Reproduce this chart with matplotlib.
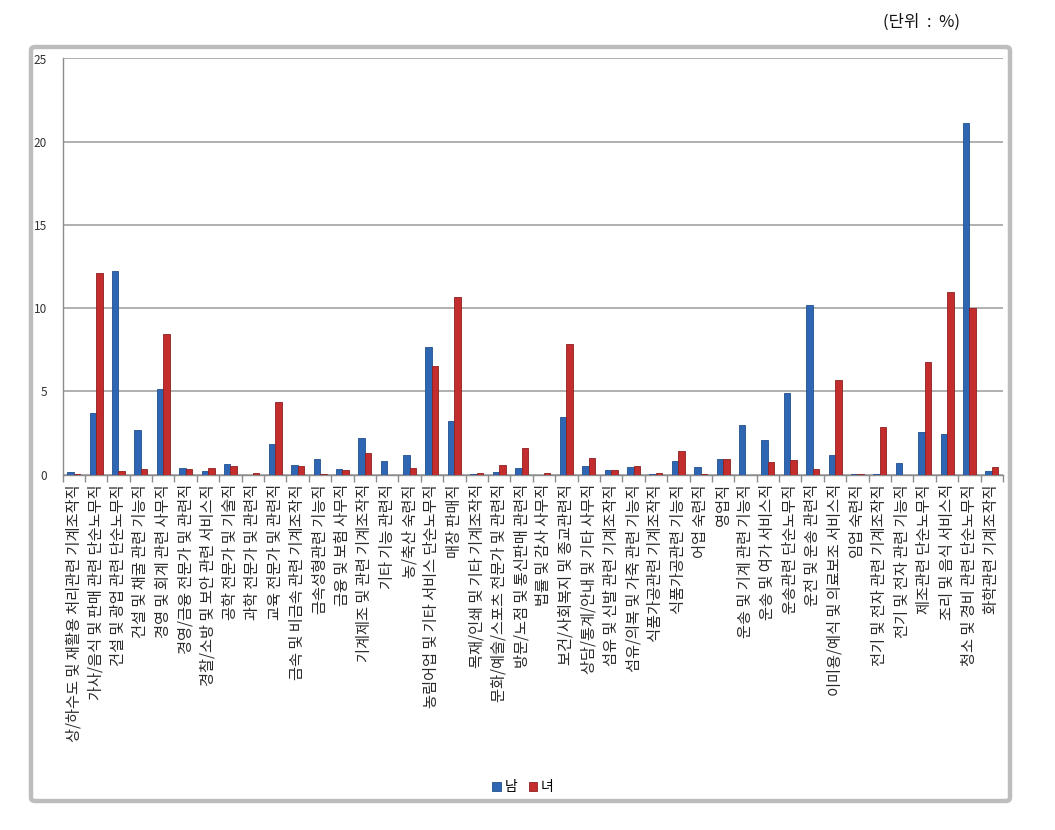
import numpy as np
import matplotlib
matplotlib.use('Agg')
import matplotlib.pyplot as plt
from matplotlib.patches import FancyBboxPatch

plt.rcParams['font.family'] = ['Noto Sans CJK KR', 'DejaVu Sans']

# 직종별 성별 비율 (단위 : %)
jobs = [
    '상/하수도 및 재활용 처리관련 기계조작직',
    '가사/음식 및 판매 관련 단순노무직',
    '건설 및 광업 관련 단순노무직',
    '건설 및 채굴 관련 기능직',
    '경영 및 회계 관련 사무직',
    '경영/금융 전문가 및 관련직',
    '경찰/소방 및 보안 관련 서비스직',
    '공학 전문가 및 기술직',
    '과학 전문가 및 관련직',
    '교육 전문가 및 관련직',
    '금속 및 비금속 관련 기계조작직',
    '금속성형관련 기능직',
    '금융 및 보험 사무직',
    '기계제조 및 관련 기계조작직',
    '기타 기능 관련직',
    '농/축산 숙련직',
    '농림어업 및 기타 서비스 단순노무직',
    '매장 판매직',
    '목재/인쇄 및 기타 기계조작직',
    '문화/예술/스포츠 전문가 및 관련직',
    '방문/노점 및 통신판매 관련직',
    '법률 및 감사 사무직',
    '보건/사회복지 및 종교관련직',
    '상담/통계/안내 및 기타 사무직',
    '섬유 및 신발 관련 기계조작직',
    '섬유/의복 및 가죽 관련 기능직',
    '식품가공관련 기계조작직',
    '식품가공관련 기능직',
    '어업 숙련직',
    '영업직',
    '운송 및 기계 관련 기능직',
    '운송 및 여가 서비스직',
    '운송관련 단순노무직',
    '운전 및 운송 관련직',
    '이미용/예식 및 의료보조 서비스직',
    '임업 숙련직',
    '전기 및 전자 관련 기계조작직',
    '전기 및 전자 관련 기능직',
    '제조관련 단순노무직',
    '조리 및 음식 서비스직',
    '청소 및 경비 관련 단순노무직',
    '화학관련 기계조작직',
]

male = [0.14, 3.7, 12.24, 2.7, 5.14, 0.4, 0.2, 0.66, 0.0, 1.82,
        0.6, 0.94, 0.34, 2.2, 0.8, 1.2, 7.64, 3.24, 0.04, 0.16,
        0.4, 0.0, 3.44, 0.54, 0.28, 0.46, 0.04, 0.8, 0.46, 0.94,
        2.98, 2.08, 4.88, 10.2, 1.2, 0.03, 0.03, 0.68, 2.58, 2.44,
        21.1, 0.2]
female = [0.06, 12.1, 0.2, 0.34, 8.44, 0.34, 0.4, 0.54, 0.1, 4.38,
          0.52, 0.04, 0.28, 1.28, 0.0, 0.4, 6.54, 10.68, 0.12, 0.6,
          1.62, 0.1, 7.84, 1.0, 0.28, 0.54, 0.12, 1.42, 0.04, 0.94,
          0.0, 0.74, 0.88, 0.34, 5.68, 0.03, 2.84, 0.0, 6.74, 10.94,
          10.0, 0.48]

W, H = 1055, 830
fig = plt.figure(figsize=(W / 100, H / 100), dpi=100)

# 바깥 회색 테두리
frame = FancyBboxPatch((31 / W, 1 - 801 / H), 979 / W, 754 / H,
                       boxstyle='round,pad=0,rounding_size=0.004',
                       transform=fig.transFigure, fill=False,
                       edgecolor='#bdbdbd', linewidth=3.2)
fig.patches.append(frame)

fig.text(960 / W, 1 - 22 / H, '(단위  :  %)', ha='right', va='center',
         fontsize=12, color='#111111')

ax = fig.add_axes([62.5 / W, 1 - 474.5 / H, 940.5 / W, 416 / H])

x = np.arange(len(jobs))
bw = 0.29
ax.bar(x - bw / 2, male, bw, color='#2f66b3', edgecolor='#21508f',
       linewidth=0.6, label='남', zorder=3)
ax.bar(x + bw / 2, female, bw, color='#c42d2d', edgecolor='#8e1f1f',
       linewidth=0.6, label='녀', zorder=3)

ax.set_xlim(-0.5, len(jobs) - 0.5)
ax.set_ylim(0, 25)
ax.set_yticks([0, 5, 10, 15, 20, 25])
ax.yaxis.grid(True, color='#9a9a9a', linewidth=1.1, zorder=0)
ax.set_axisbelow(True)

for s in ['top', 'right']:
    ax.spines[s].set_visible(False)
for s in ['left', 'bottom']:
    ax.spines[s].set_color('#8c8c8c')
    ax.spines[s].set_linewidth(1.0)

ax.tick_params(axis='y', length=0, pad=11, labelsize=8.5, labelcolor='#333333')
ax.set_xticks(x)
ax.set_xticklabels(jobs, rotation=90, fontsize=11, color='#2a2a2a',
                   va='top', ha='center')
ax.tick_params(axis='x', which='major', length=0, pad=7)
ax.set_xticks(np.arange(-0.5, len(jobs)), minor=True)
ax.tick_params(axis='x', which='minor', length=5, color='#8c8c8c', width=1.0)

ax.legend(loc='center', bbox_to_anchor=(523 / W, 1 - 787 / H),
          bbox_transform=fig.transFigure, ncol=2, frameon=False,
          fontsize=10, handlelength=0.6, handleheight=0.6,
          handletextpad=0.3, columnspacing=0.8)

fig.savefig('out.png', dpi=100)
